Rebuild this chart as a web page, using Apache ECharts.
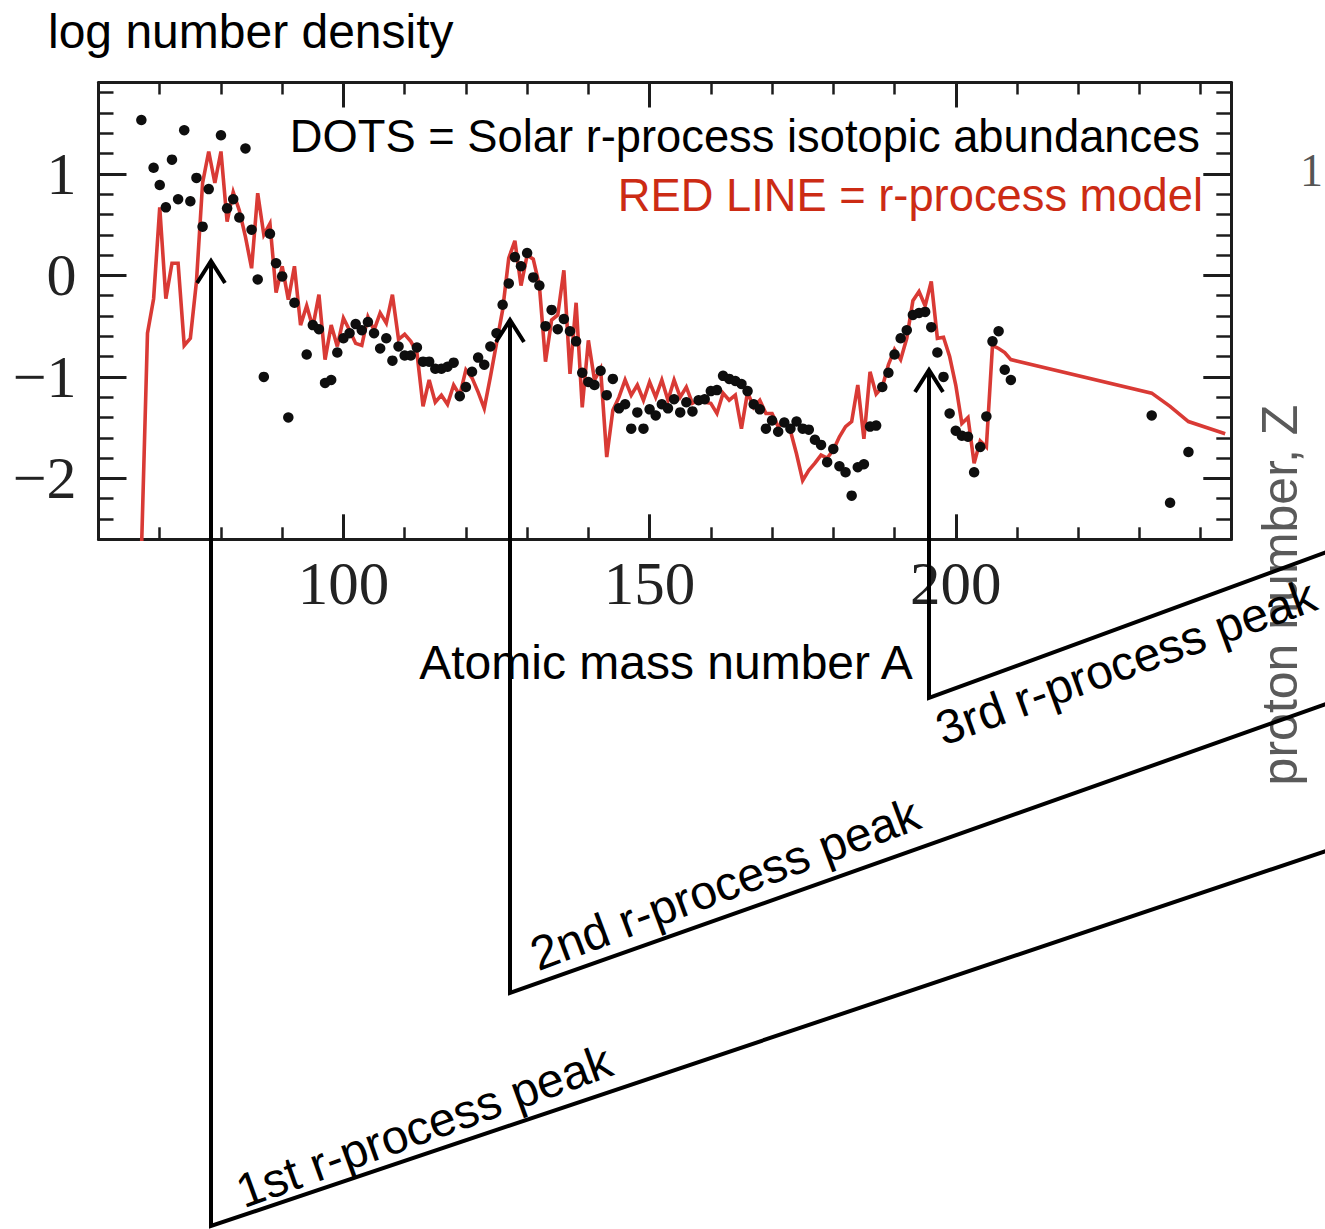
<!DOCTYPE html>
<html><head><meta charset="utf-8">
<script src="https://cdn.jsdelivr.net/npm/echarts@6/dist/echarts.min.js"></script>
<style>html,body{margin:0;padding:0;background:#fff}#c{width:1325px;height:1229px}</style>
</head><body><div id="c"></div>
<script>
// ---- data ----
const dotA = [67,69,70,71,72,73,74,75,76,77,78,80,81,82,83,84,85,86,87,88,89,90,91,92,94,95,96,97,98,99,
  100,101,102,103,104,105,106,107,108,109,110,111,112,113,114,115,116,117,118,119,120,121,122,123,124,125,
  126,127,128,129,130,131,132,133,134,135,136,137,138,139,140,141,142,143,144,145,146,147,148,149,150,
  151,152,153,154,155,156,157,158,159,160,161,162,163,164,165,166,167,168,169,170,171,172,173,174,175,
  176,177,178,179,180,181,182,183,184,185,186,187,188,189,190,191,192,193,194,195,196,197,198,199,200,
  201,202,203,204,205,206,207,208,209,232,235,238];
const dotLog = [1.53,1.06,0.89,0.67,1.14,0.75,1.43,0.73,0.96,0.48,0.85,1.38,0.66,0.75,0.57,1.25,0.45,-0.04,-1.00,0.41,0.12,-0.01,-1.40,-0.27,-0.78,-0.49,-0.53,-1.06,-1.03,-0.76,
  -0.62,-0.57,-0.48,-0.54,-0.46,-0.57,-0.72,-0.62,-0.84,-0.70,-0.79,-0.79,-0.71,-0.85,-0.85,-0.92,-0.92,-0.90,-0.86,-1.19,-1.10,-0.95,-0.81,-0.88,-0.70,-0.57,
  -0.29,-0.08,0.18,0.09,0.22,-0.02,-0.10,-0.50,-0.34,-0.53,-0.43,-0.55,-0.65,-0.96,-1.05,-1.08,-0.94,-1.18,-1.02,-1.31,-1.27,-1.51,-1.35,-1.51,-1.32,
  -1.38,-1.27,-1.31,-1.22,-1.35,-1.25,-1.34,-1.23,-1.22,-1.14,-1.13,-0.99,-1.02,-1.04,-1.07,-1.14,-1.27,-1.32,-1.51,-1.43,-1.54,-1.45,-1.51,-1.44,-1.51,
  -1.52,-1.62,-1.67,-1.84,-1.71,-1.88,-1.94,-2.17,-1.89,-1.86,-1.49,-1.48,-1.10,-0.96,-0.78,-0.62,-0.54,-0.39,-0.37,-0.36,-0.51,-0.76,-1.00,-1.36,-1.53,
  -1.58,-1.59,-1.94,-1.69,-1.39,-0.65,-0.55,-0.93,-1.03,-1.38,-2.24,-1.74];

const modelA = [67,68,69,70,71,72,73,74,75,76,77,78,79,80,81,82,83,84,85,86,87,88,89,90,91,92,93,94,95,96,97,98,99,
  100,101,102,103,104,105,106,107,108,109,110,111,112,113,114,115,116,117,118,119,120,121,122,123,124,125,
  126,127,128,129,130,131,132,133,134,135,136,137,138,139,140,141,142,143,144,145,146,147,148,149,150,
  151,152,153,154,155,156,157,158,159,160,161,162,163,164,165,166,167,168,169,170,171,172,173,174,175,
  176,177,178,179,180,181,182,183,184,185,186,187,188,189,190,191,192,193,194,195,196,197,198,199,200,
  201,202,203,204,205,206,207,208,209,232,235,238,244];
const modelLog = [-2.75,-0.57,-0.23,0.67,-0.23,0.12,0.12,-0.69,-0.62,-0.06,0.91,1.22,0.91,1.22,0.53,0.82,0.64,0.38,0.07,0.81,0.40,0.51,-0.17,0.09,-0.24,0.09,-0.49,-0.30,-0.51,-0.19,-0.83,-0.49,-0.70,
  -0.42,-0.54,-0.67,-0.69,-0.41,-0.54,-0.37,-0.47,-0.19,-0.63,-0.58,-0.65,-0.76,-1.29,-1.03,-1.25,-1.18,-1.27,-1.08,-1.18,-0.93,-1.01,-1.15,-1.31,-1.00,-0.67,
  -0.34,0.17,0.34,-0.10,0.20,0.16,-0.10,-0.85,-0.44,-0.39,0.05,-0.97,-0.27,-1.30,-0.64,-1.03,-0.92,-1.79,-1.33,-1.20,-1.03,-1.18,-1.08,-1.23,-1.05,
  -1.20,-1.03,-1.23,-1.03,-1.20,-1.10,-1.26,-1.23,-1.25,-1.26,-1.36,-1.16,-1.23,-1.18,-1.51,-1.15,-1.30,-1.23,-1.36,-1.36,-1.49,-1.44,-1.53,-1.76,-2.02,
  -1.92,-1.85,-1.77,-1.80,-1.72,-1.59,-1.49,-1.44,-1.08,-1.61,-0.95,-1.17,-1.10,-0.88,-0.73,-0.83,-0.62,-0.25,-0.16,-0.30,-0.06,-0.62,-0.61,-0.80,-1.08,
  -1.46,-1.40,-1.85,-1.63,-1.69,-0.69,-0.72,-0.76,-0.83,-1.16,-1.29,-1.44,-1.56];

const xLabelValues = [100, 150, 200];
const yLabelValues = [-2, -1, 0, 1];
const xRange = [60, 245];
const yRange = [-2.6, 1.9];

// ---- chart ----
const AX = '#1c1c1c';
const chart = echarts.init(document.getElementById('c'), null, {renderer: 'svg'});

function xAxisDef(pos, major) {
  return {
    type: 'value', min: xRange[0], max: xRange[1], position: pos,
    interval: major ? undefined : 10,
    axisLine: {show: !major, onZero: false, lineStyle: {color: AX, width: 3}},
    axisTick: major
      ? {show: true, inside: true, length: 25, customValues: xLabelValues, lineStyle: {color: AX, width: 3}}
      : {show: true, inside: true, length: 12, lineStyle: {color: AX, width: 2.5}},
    axisLabel: (major && pos === 'bottom')
      ? {show: true, customValues: xLabelValues, fontFamily: 'Liberation Serif', fontSize: 61, color: '#222', margin: 14}
      : {show: false},
    splitLine: {show: false}
  };
}
function yAxisDef(pos, major) {
  return {
    type: 'value', min: yRange[0], max: yRange[1], position: pos,
    interval: major ? undefined : 0.2,
    axisLine: {show: !major, onZero: false, lineStyle: {color: AX, width: 3}},
    axisTick: major
      ? {show: true, inside: true, length: 28, customValues: yLabelValues, lineStyle: {color: AX, width: 3}}
      : {show: true, inside: true, length: 15, lineStyle: {color: AX, width: 2.5}},
    axisLabel: (major && pos === 'left')
      ? {show: true, customValues: yLabelValues, fontFamily: 'Liberation Serif', fontSize: 60, color: '#222', margin: 22,
         formatter: v => (v < 0 ? '\u2212' + Math.abs(v) : String(v))}
      : {show: false},
    splitLine: {show: false}
  };
}

const arrowW = 4;
function arrowGroup(x, tipY, bottomY, endX, endY) {
  return [
    {type: 'polyline', z: 100, shape: {points: [[x, tipY + 2], [x, bottomY], [endX, endY]]},
     style: {stroke: '#000', lineWidth: arrowW, fill: null, lineJoin: 'miter'}},
    {type: 'polyline', z: 100, shape: {points: [[x - 14, tipY + 22], [x, tipY], [x + 14, tipY + 22]]},
     style: {stroke: '#000', lineWidth: arrowW, fill: null, lineJoin: 'miter'}}
  ];
}
const SANS = '"Liberation Sans", Arial, sans-serif';
function label(text, x, y, opts) {
  return Object.assign({
    type: 'text', x: x, y: y, z: 90,
    style: Object.assign({text: text, x: 0, y: 0, fill: '#000',
      font: '48px ' + SANS, align: 'center', verticalAlign: 'middle'}, opts.style || {})
  }, opts.el || {});
}
const deg = Math.PI / 180;

chart.setOption({
  animation: false,
  backgroundColor: '#fff',
  grid: {left: 98.5, top: 82.5, width: 1132.8, height: 456.8, containLabel: false},
  xAxis: [xAxisDef('bottom', false), xAxisDef('bottom', true), xAxisDef('top', false), xAxisDef('top', true)],
  yAxis: [yAxisDef('left', false), yAxisDef('left', true), yAxisDef('right', false), yAxisDef('right', true)],
  series: [
    {type: 'line', xAxisIndex: 0, yAxisIndex: 0, z: 2, clip: true, showSymbol: false, symbol: 'none',
     data: modelA.map((a, i) => [a, modelLog[i]]),
     lineStyle: {color: '#d93a35', width: 3.6, join: 'miter'}},
    {type: 'scatter', xAxisIndex: 0, yAxisIndex: 0, z: 3, symbol: 'circle', symbolSize: 10.5,
     data: dotA.map((a, i) => [a, dotLog[i]]),
     itemStyle: {color: '#0e0e0e', opacity: 1}}
  ],
  graphic: {elements: [
    label('log number density', 48, 31, {style: {align: 'left'}}),
    label('DOTS = Solar r-process isotopic abundances', 1200, 136, {style: {align: 'right', font: '45.3px ' + SANS}}),
    label('RED LINE = r-process model', 1203, 195, {style: {align: 'right', fill: '#cc2b14', font: '45.3px ' + SANS}}),
    label('Atomic mass number A', 666, 662, {}),
    label('proton number, Z', 1280, 595, {el: {rotation: 90 * deg}, style: {fill: '#5a5a5a', font: '50px ' + SANS}}),
    label('1', 1300, 170, {style: {align: 'left', fill: '#555', font: '46px "Liberation Serif", serif'}}),
    label('3rd r-process peak', 1126, 662, {el: {rotation: 20 * deg}}),
    label('2nd r-process peak', 725, 884, {el: {rotation: 20.5 * deg}}),
    label('1st r-process peak', 424, 1126, {el: {rotation: 19.8 * deg}}),
    ...arrowGroup(211, 261, 1226, 1332, 849),
    ...arrowGroup(510, 320, 993, 1332, 702),
    ...arrowGroup(929, 370, 698, 1332, 550)
  ]}
});
</script></body></html>
